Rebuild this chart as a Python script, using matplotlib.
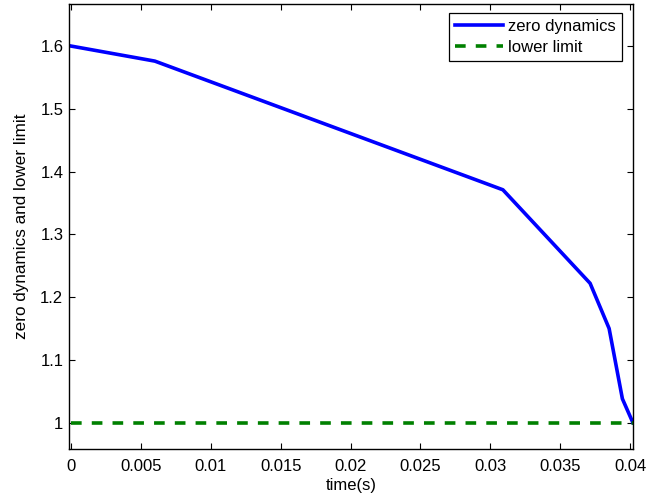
import matplotlib.pyplot as plt

# values
t = [0.0, 0.0060, 0.0309, 0.03714, 0.0385, 0.03945, 0.0402]
zero_dyn = [1.600, 1.576, 1.371, 1.222, 1.150, 1.038, 1.000]
limit_t = [0.0, 0.0402]
lower_limit = [1.0, 1.0]

xticks = [0, 0.005, 0.01, 0.015, 0.02, 0.025, 0.03, 0.035, 0.04]
xticklabels = ['0', '0.005', '0.01', '0.015', '0.02', '0.025', '0.03', '0.035', '0.04']
yticks = [1.0, 1.1, 1.2, 1.3, 1.4, 1.5, 1.6]
yticklabels = ['1', '1.1', '1.2', '1.3', '1.4', '1.5', '1.6']


def main():
    plt.rcParams['font.family'] = ['Liberation Sans', 'DejaVu Sans']
    fig = plt.figure(figsize=(6.69, 5), dpi=100)
    ax = fig.add_axes([0.103, 0.102, 0.843, 0.890])

    ax.plot(t, zero_dyn, color='#0000ff', lw=2.6, label='zero dynamics')
    ax.plot(limit_t, lower_limit, color='#008000', lw=2.6, ls=(0, (2.95, 2.8)),
            label='lower limit')

    ax.set_xlim(-0.00015, 0.0402)
    ax.set_ylim(0.958, 1.667)
    ax.set_xticks(xticks)
    ax.set_xticklabels(xticklabels)
    ax.set_yticks(yticks)
    ax.set_yticklabels(yticklabels)
    ax.tick_params(direction='in', top=True, right=True, labelsize=12, length=4.5)
    ax.tick_params(axis='x', pad=7)
    ax.tick_params(axis='y', pad=4)
    for s in ax.spines.values():
        s.set_linewidth(1.0)

    ax.set_xlabel('time(s)', fontsize=12, labelpad=3)
    ax.set_ylabel('zero dynamics and lower limit', fontsize=12.3, labelpad=8)

    leg = ax.legend(loc='upper right', bbox_to_anchor=(0.9805, 0.9804),
                    fontsize=12, fancybox=False, framealpha=1,
                    edgecolor='black', borderaxespad=0, handlelength=2.9,
                    borderpad=0.35, labelspacing=0.38, handletextpad=0.3)
    leg.get_frame().set_linewidth(0.9)

    fig.savefig('out.png', dpi=100)


if __name__ == "__main__":
    main()
